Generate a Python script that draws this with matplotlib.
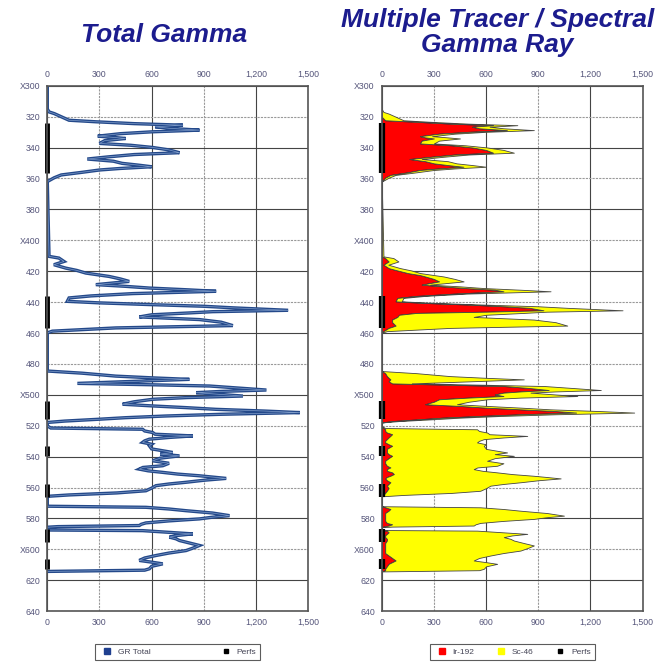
import matplotlib
matplotlib.use("Agg")
import matplotlib.pyplot as plt
from matplotlib.lines import Line2D

# ---- data ----
depth = [300, 315, 316.9, 318, 320, 322.3, 323.3, 324.5, 325.5, 326.5, 327.5, 328.7, 329.8, 331,
         332.6, 333.4, 334.1, 335.5, 337.3, 338.5, 339.9, 341.5, 343.3, 344.5, 346, 347.4, 348.8,
         350.2, 351.3, 352.4, 353.5, 354.5, 356, 357.7, 359.5, 362,
         410.4, 411.5, 413.7, 415.8, 418, 419.5, 421.2, 422.5, 423.4, 425, 426.6, 428.7, 429.8,
         430.9, 432, 433, 434.5, 436, 437.3, 439.5, 440.5, 441.6, 442.7, 443.7, 445.3, 446.2, 447,
         448.2, 449.6, 451.3, 453, 455.2, 456, 456.7, 458.8, 459.9,
         484.6, 486, 487.9, 489, 490, 491.3, 492.6, 493.5, 494.3, 495.6, 496.9, 497.8, 498.6,
         499.8, 500.8, 501.8, 502.9, 504.5, 506.1, 507.2, 508.3, 509.4, 510.5, 511.5, 512.6,
         513.7, 514.8, 515.8, 517, 517.9,
         520.1, 521.5, 522.3, 523.4, 524.4, 525.5, 526.6, 527.6, 528.7, 529.8, 530.8, 532, 533,
         535, 537.3, 538.4, 539.5, 541, 542.7, 544.3, 545.9, 547, 548.1, 549.2, 550.2, 551.3,
         552.4, 553.2, 554.1, 555.3, 556.6, 557.7, 558.8, 560.4, 562.1, 563.5, 564.8, 565.7,
         572.1, 572.8, 573.9, 575, 576.5, 578.2, 579.2, 580.3, 581.6, 582.9, 583.8, 584.6, 585.3,
         585.7, 587.5, 587.9, 589, 590, 591, 592.1, 593.2, 594.3, 596, 597.5, 599.1, 600.8, 602.4,
         604, 605.6, 607.2, 608.3, 609.4, 611, 612.6, 613.5, 614.3]

gr_total = [0, 0, 10, 40, 80, 125, 280, 500, 780, 620, 700, 875, 600, 420,
            290, 380, 450, 330, 300, 480, 605, 700, 760, 500, 350, 230, 380,
            430, 520, 600, 420, 300, 200, 80, 40, 0,
            10, 67, 96, 38, 106, 170, 221, 300, 356, 420, 471, 279, 450,
            587, 800, 971, 490, 250, 125, 115, 300, 587, 900, 1067, 1385, 950, 817,
            600, 529, 875, 1000, 1067, 700, 394, 29, 0,
            0, 200, 394, 600, 817, 500, 173, 600, 933, 1100, 1260, 1000, 856,
            1000, 1125, 800, 606, 500, 433, 606, 800, 971, 1250, 1452, 1000,
            683, 450, 298, 100, 0,
            0, 20, 548, 560, 606, 620, 837, 700, 587, 560, 548, 600, 587,
            600, 721, 650, 760, 650, 606, 700, 664, 550, 529, 580, 664, 750,
            875, 950, 1029, 900, 798, 700, 625, 600, 567, 400, 125, 0,
            0, 567, 700, 798, 950, 1048, 950, 875, 700, 567, 540, 529, 60,
            0, 0, 548, 700, 837, 750, 702, 740, 760, 820, 875, 840, 798, 700,
            625, 560, 529, 600, 664, 600, 587, 560, 0]

ir192 = [0, 0, 0, 0, 0, 20, 200, 400, 640, 520, 560, 720, 500, 330,
         220, 250, 300, 230, 220, 400, 520, 600, 640, 420, 280, 160, 250,
         300, 380, 470, 330, 220, 150, 50, 20, 0,
         0, 20, 40, 10, 40, 90, 150, 220, 250, 300, 330, 230, 350,
         480, 650, 700, 420, 200, 90, 80, 240, 500, 700, 850, 930, 600, 200,
         100, 90, 60, 60, 80, 60, 40, 10, 0,
         0, 20, 30, 40, 50, 40, 60, 400, 700, 850, 960, 800, 700,
         650, 700, 500, 330, 300, 250, 450, 600, 800, 1000, 1118, 800,
         560, 350, 220, 60, 0,
         0, 10, 20, 20, 30, 60, 50, 40, 30, 20, 20, 40, 60,
         30, 30, 40, 60, 40, 20, 20, 30, 50, 30, 30, 60, 70,
         50, 30, 20, 30, 50, 40, 30, 40, 30, 20, 10, 0,
         0, 20, 50, 40, 20, 20, 20, 20, 20, 30, 60, 40, 10,
         0, 0, 30, 40, 30, 20, 20, 30, 30, 20, 20, 20, 20, 20,
         40, 60, 80, 60, 40, 30, 20, 20, 0]

perf_top = [324.4, 436.3, 504.0, 533.0, 557.7, 586.8, 606.1]
perf_bot = [356.6, 456.7, 515.8, 539.5, 566.3, 595.4, 612.6]

x_ticks = [0, 300, 600, 900, 1200, 1500]
x_labels = ["0", "300", "600", "900", "1,200", "1,500"]
y_ticks = list(range(300, 641, 20))
y_labels = ["X300", "320", "340", "360", "380", "X400", "420", "440", "460", "480",
            "X500", "520", "540", "560", "580", "X600", "620", "640"]

TITLE_C = "#1c1c8e"
TICK_C = "#55557a"

plt.rcParams["font.family"] = ["Liberation Sans", "DejaVu Sans"]

fig = plt.figure(figsize=(6.57, 6.65), dpi=100)
ax1 = fig.add_axes([0.072, 0.081, 0.397, 0.790])
ax2 = fig.add_axes([0.581, 0.081, 0.397, 0.790])


def style_axes(ax):
    ax.set_xlim(0, 1500)
    ax.set_ylim(640, 300)
    ax.set_xticks(x_ticks)
    ax.set_xticklabels(x_labels)
    ax.set_yticks(y_ticks)
    ax.set_yticklabels(y_labels)
    ax.tick_params(length=0, labelsize=6.3, labelcolor=TICK_C, pad=5,
                   labeltop=True, labelbottom=True)
    ax.grid(True, color="#666666", lw=0.8, linestyle=(0, (2, 1)))
    for i, gl in enumerate(ax.get_xgridlines()):
        if i % 2 == 0:
            gl.set_color("#444444")
            gl.set_linestyle("-")
        else:
            gl.set_color("#999999")
    for i, gl in enumerate(ax.get_ygridlines()):
        if i % 2 == 0:
            gl.set_color("#444444")
            gl.set_linestyle("-")
        else:
            gl.set_color("#999999")
    for s in ax.spines.values():
        s.set_color("#555555")
        s.set_linewidth(1.2)
    ax.set_axisbelow(True)


style_axes(ax1)
style_axes(ax2)

# left: total gamma curve
ax1.plot(gr_total, depth, color="#24498a", lw=2.4, solid_joinstyle="miter")
ax1.plot(gr_total, depth, color="#7f9cc9", lw=0.5)
for t, b in zip(perf_top, perf_bot):
    ax1.plot([0, 0], [t, b], color="black", lw=3.5, solid_capstyle="butt", clip_on=False)

# right: stacked tracer areas
ax2.fill_betweenx(depth, 0, ir192, color="#ff0000", edgecolor="#222222", lw=0.6)
ax2.fill_betweenx(depth, ir192, gr_total, color="#ffff00", edgecolor="#444444", lw=0.6)
for t, b in zip(perf_top, perf_bot):
    ax2.plot([0, 0], [t, b], color="black", lw=4.5, solid_capstyle="butt", clip_on=False)

fig.text(0.25, 0.947, "Total Gamma", ha="center", va="center", fontsize=19,
         fontweight="bold", fontstyle="italic", color=TITLE_C)
fig.text(0.757, 0.951, "Multiple Tracer / Spectral\nGamma Ray", ha="center", va="center",
         fontsize=19, fontweight="bold", fontstyle="italic", color=TITLE_C, linespacing=1.05)

h1 = [Line2D([], [], marker="s", ls="", color="#1f3f8f", ms=4, label="GR Total"),
      Line2D([], [], marker="s", ls="", color="black", ms=3, label="Perfs")]
leg1 = ax1.legend(handles=h1, loc="upper center", bbox_to_anchor=(0.5, -0.055), ncol=2,
                  fontsize=6, frameon=True, fancybox=False, edgecolor="#333333",
                  columnspacing=8, handletextpad=0.3, borderpad=0.45)
leg1.get_frame().set_linewidth(0.8)
for t in leg1.get_texts():
    t.set_color("#444455")

h2 = [Line2D([], [], marker="s", ls="", color="#ff0000", ms=5, label="Ir-192"),
      Line2D([], [], marker="s", ls="", color="#ffff00", ms=5, label="Sc-46"),
      Line2D([], [], marker="s", ls="", color="black", ms=3, label="Perfs")]
leg2 = ax2.legend(handles=h2, loc="upper center", bbox_to_anchor=(0.5, -0.055), ncol=3,
                  fontsize=6, frameon=True, fancybox=False, edgecolor="#333333",
                  columnspacing=2.2, handletextpad=0.3, borderpad=0.45)
leg2.get_frame().set_linewidth(0.8)
for t in leg2.get_texts():
    t.set_color("#444455")

fig.savefig("out.png", dpi=100)
